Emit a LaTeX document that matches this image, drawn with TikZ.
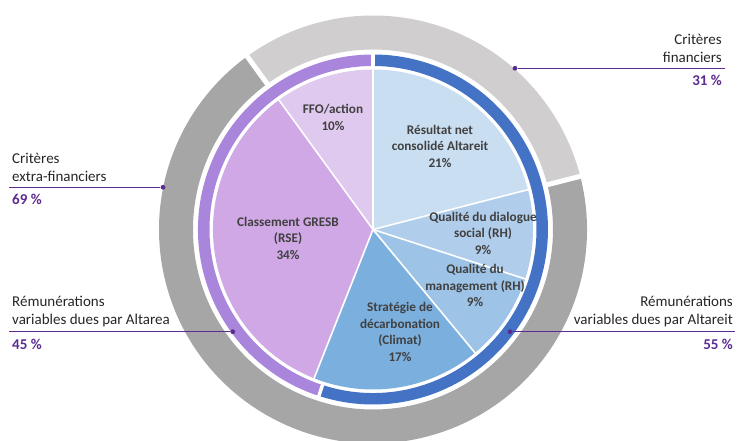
\documentclass[tikz,border=0pt]{standalone}
\usepackage{fontspec}
\setmainfont{Carlito}
\usetikzlibrary{positioning}
\definecolor{violet}{RGB}{91,44,145}
\definecolor{txt}{RGB}{38,38,38}
\definecolor{intxt}{RGB}{64,64,64}
\definecolor{resultat}{RGB}{202,222,242}
\definecolor{dialogue}{RGB}{176,205,235}
\definecolor{management}{RGB}{157,195,230}
\definecolor{strategie}{RGB}{123,175,222}
\definecolor{gresb}{RGB}{208,168,230}
\definecolor{ffo}{RGB}{224,201,239}
\definecolor{altareit}{RGB}{68,114,196}
\definecolor{altarea}{RGB}{169,134,220}
\definecolor{fin}{RGB}{208,206,206}
\definecolor{extra}{RGB}{166,166,166}

\begin{document}
\begin{tikzpicture}[x=1pt, y=1pt, node distance=2pt,
dot/.style={circle,inner sep=1.7pt,fill=violet,name=#1},
lbl/.style={text=txt,inner sep=0pt,font=\fontsize{15}{18}\selectfont},
pct/.style={text=violet,inner sep=0pt,font=\bfseries\fontsize{15}{18}\selectfont},
part/.style={text=intxt,align=center,inner sep=0pt,font=\bfseries\fontsize{13.2}{16.5}\selectfont},
slice/.style={draw=white,line width=1.6pt},
gap/.style={white,line width=#1}]
\useasboundingbox (0,0) rectangle (737,441);

\begin{scope}[shift={(373,211.5)}]
%% outer ring: financiers / extra-financiers
\fill[fin] (126:214) arc (126:14.4:214) -- (14.4:180) arc (14.4:126:180) -- cycle;
\fill[extra] (14.4:214) arc (14.4:-234:214) -- (-234:180) arc (-234:14.4:180) -- cycle;
\draw[gap=5pt] (126:176) -- (126:218);
\draw[gap=5pt] (14.4:176) -- (14.4:218);

%% middle ring: Altareit / Altarea
\fill[altareit] (90:175) arc (90:-108:175) -- (-108:163.5) arc (-108:90:163.5) -- cycle;
\fill[altarea] (-108:175) arc (-108:-270:175) -- (-270:163.5) arc (-270:-108:163.5) -- cycle;
\draw[gap=3.5pt] (90:160) -- (90:178);
\draw[gap=3.5pt] (-108:160) -- (-108:178);

%% pie
\fill[resultat] (0,0) -- (90:160) arc (90:14.4:160) -- cycle;
\fill[dialogue] (0,0) -- (14.4:160) arc (14.4:-18:160) -- cycle;
\fill[management] (0,0) -- (-18:160) arc (-18:-50.4:160) -- cycle;
\fill[strategie] (0,0) -- (-50.4:160) arc (-50.4:-111.6:160) -- cycle;
\fill[gresb] (0,0) -- (-111.6:160) arc (-111.6:-234:160) -- cycle;
\fill[ffo] (0,0) -- (126:160) arc (126:90:160) -- cycle;
% white cuts
\draw[slice] (0,0) -- (90:161);
\draw[slice] (0,0) -- (14.4:161);
\draw[slice] (0,0) -- (-18:161);
\draw[slice] (0,0) -- (-50.4:161);
\draw[slice] (0,0) -- (-111.6:161);
\draw[slice] (0,0) -- (126:161);
\end{scope}

%% labels in the pie
\node [part] (ffoL) at (333,323.5) {FFO/action\\10\%};
\node [part] (resL) at (440,295) {Résultat net\\consolidé Altareit\\21\%};
\node [part] (gresbL) at (288,202.7) {Classement GRESB\\(RSE)\\34\%};
\node [part] (dialL) at (483,208) {Qualité du dialogue\\social (RH)\\9\%};
\node [part] (mgmtL) at (475,155.3) {Qualité du\\management (RH)\\9\%};
\node [part] (stratL) at (400,109) {Stratégie de\\décarbonation\\(Climat)\\17\%};

%% callouts
\node [dot=finD] at (515,372.7) {};
\coordinate (finE) at (725,372.7);
\coordinate (finR) at (722,372.7);
\draw [violet,thick] (finD) -- (finE);
\node [lbl, align=right, above left = 5pt and 0pt of finR] (finT) {Critères\\financiers};
\node [pct, below left = 7pt and 0pt of finR] (finP) {31 \%};

\node [dot=extraD] at (163,253.7) {};
\coordinate (extraE) at (9,253.7);
\coordinate (extraR) at (12,253.7);
\draw [violet,thick] (extraD) -- (extraE);
\node [lbl, align=left, above right = 5pt and 0pt of extraR] (extraT) {Critères\\extra-financiers};
\node [pct, below right = 7pt and 0pt of extraR] (extraP) {69 \%};

\node [dot=areaD] at (232.7,109.3) {};
\coordinate (areaE) at (9,109.3);
\coordinate (areaR) at (12,109.3);
\draw [violet,thick] (areaD) -- (areaE);
\node [lbl, align=left, above right = 5pt and 0pt of areaR] (areaT) {Rémunérations\\variables dues par Altarea};
\node [pct, below right = 7pt and 0pt of areaR] (areaP) {45 \%};

\node [dot=reitD] at (510,109.3) {};
\coordinate (reitE) at (735,109.3);
\coordinate (reitR) at (733,109.3);
\draw [violet,thick] (reitD) -- (reitE);
\node [lbl, align=right, above left = 5pt and 0pt of reitR] (reitT) {Rémunérations\\variables dues par Altareit};
\node [pct, below left = 7pt and 0pt of reitR] (reitP) {55 \%};
\end{tikzpicture}
\end{document}
